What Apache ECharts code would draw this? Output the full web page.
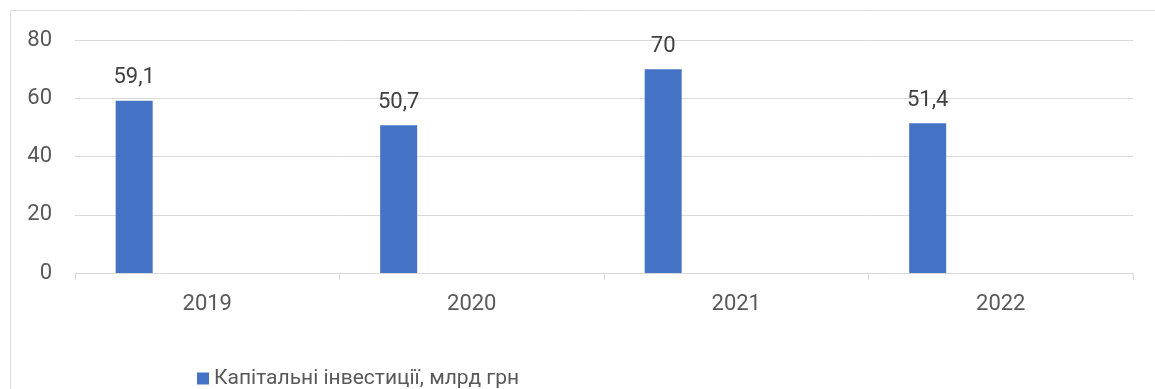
<!DOCTYPE html>
<html><head><meta charset="utf-8">
<script src="https://cdn.jsdelivr.net/npm/echarts@6/dist/echarts.min.js"></script>
<style>html,body{margin:0;padding:0;background:#fff}#c{width:1155px;height:389px}</style>
</head><body><div id="c"></div>
<script>
const categories = ['2019', '2020', '2021', '2022'];
const seriesName = 'Капітальні інвестиції, млрд грн';
const values = [59.1, 50.7, 70, 51.4];
const yTicks = [0, 20, 40, 60, 80];

const chart = echarts.init(document.getElementById('c'));
chart.setOption({
  animation: false,
  textStyle: { fontFamily: 'Roboto, "Noto Sans", sans-serif' },
  graphic: [{
    type: 'rect', shape: { x: 10.5, y: 10.5, width: 1160, height: 400 },
    style: { fill: 'none', stroke: '#d9d9d9', lineWidth: 1 }, silent: true
  }],
  grid: { left: 75, right: 22, top: 40, bottom: 116 },
  legend: {
    data: [seriesName], left: 192, top: 363, itemWidth: 12, itemHeight: 12,
    icon: 'rect', itemGap: 5,
    textStyle: { fontSize: 21, color: '#595959' }
  },
  xAxis: {
    type: 'category', data: categories,
    axisLine: { lineStyle: { color: '#d9d9d9' } },
    axisTick: { show: true, length: 7, lineStyle: { color: '#d9d9d9' } },
    axisLabel: { fontSize: 22, color: '#595959', margin: 20 }
  },
  yAxis: {
    type: 'value', min: yTicks[0], max: yTicks[yTicks.length - 1], interval: 20,
    axisLine: { show: false }, axisTick: { show: false },
    splitLine: { lineStyle: { color: '#d9d9d9' } },
    axisLabel: { fontSize: 22, color: '#595959', margin: 23 }
  },
  series: [{
    name: seriesName, type: 'bar', data: values, barWidth: 37, barGap: '295%',
    itemStyle: { color: '#4472c4' },
    label: {
      show: true, position: 'top', distance: 12, fontSize: 22, color: '#404040',
      formatter: p => String(p.value).replace('.', ',')
    }
  }, {
    name: '_empty', type: 'bar', data: [null, null, null, null], barWidth: 37
  }]
});
</script></body></html>
